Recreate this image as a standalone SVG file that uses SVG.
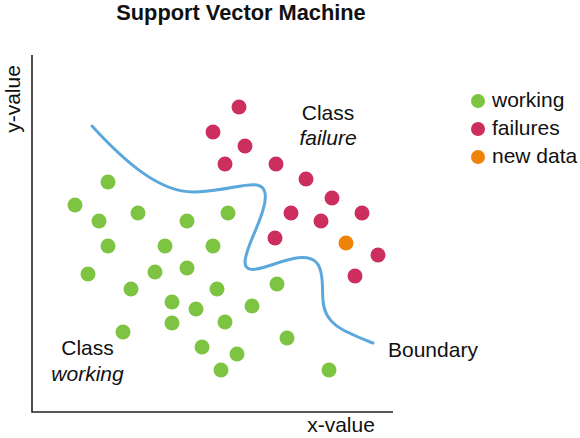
<svg xmlns="http://www.w3.org/2000/svg" width="580" height="438" viewBox="0 0 580 438">
<style>
text{font-family:"Liberation Sans",Arial,sans-serif;fill:#111;font-size:21px}
.t{font-weight:bold;font-size:21.8px}
.i{font-style:italic}
.g{fill:#7ec443}
.r{fill:#cc2f5e}
.o{fill:#ef8309}
.ax{stroke:#222;stroke-width:1.6;fill:none}
.b{stroke:#5ba8dc;stroke-width:3;fill:none;stroke-linecap:round}
</style>
<rect width="580" height="438" fill="#fff"/>
<text id="title" class="t" x="241" y="20" text-anchor="middle">Support Vector Machine</text>
<g id="axes">
<path class="ax" d="M32 55 V412 H393"/>
<text x="341" y="432" text-anchor="middle">x-value</text>
<text transform="translate(20 99) rotate(-90)" text-anchor="middle">y-value</text>
</g>
<g id="boundary">
<path class="b" d="M92 126 C125 162 160 193 195 192 C225 191 245 183 257 185 C268 187 266 200 263 210 C258 228 245 250 245 262 C245 272 255 270 265 267 C285 261 305 252 316 262 C324 270 322 290 323 300 C324 325 345 332 373 343"/>
<text x="388" y="357">Boundary</text>
</g>
<g id="working" class="g">
<circle cx="108" cy="182" r="7.5"/>
<circle cx="75" cy="205" r="7.5"/>
<circle cx="99" cy="221" r="7.5"/>
<circle cx="138" cy="213" r="7.5"/>
<circle cx="187" cy="221" r="7.5"/>
<circle cx="228" cy="213" r="7.5"/>
<circle cx="108" cy="246" r="7.5"/>
<circle cx="165" cy="246" r="7.5"/>
<circle cx="213" cy="246" r="7.5"/>
<circle cx="88" cy="274" r="7.5"/>
<circle cx="155" cy="272" r="7.5"/>
<circle cx="187" cy="268" r="7.5"/>
<circle cx="277" cy="284" r="7.5"/>
<circle cx="131" cy="289" r="7.5"/>
<circle cx="217" cy="289" r="7.5"/>
<circle cx="172" cy="302" r="7.5"/>
<circle cx="196" cy="309" r="7.5"/>
<circle cx="252" cy="306" r="7.5"/>
<circle cx="172" cy="323" r="7.5"/>
<circle cx="225" cy="322" r="7.5"/>
<circle cx="123" cy="332" r="7.5"/>
<circle cx="287" cy="338" r="7.5"/>
<circle cx="202" cy="347" r="7.5"/>
<circle cx="237" cy="354" r="7.5"/>
<circle cx="221" cy="370" r="7.5"/>
<circle cx="329" cy="370" r="7.5"/>
</g>
<g id="failures" class="r">
<circle cx="239" cy="107" r="7.5"/>
<circle cx="213" cy="132" r="7.5"/>
<circle cx="245" cy="146" r="7.5"/>
<circle cx="225" cy="164" r="7.5"/>
<circle cx="276" cy="164" r="7.5"/>
<circle cx="306" cy="179" r="7.5"/>
<circle cx="332" cy="198" r="7.5"/>
<circle cx="291" cy="213" r="7.5"/>
<circle cx="321" cy="221" r="7.5"/>
<circle cx="362" cy="213" r="7.5"/>
<circle cx="275" cy="238" r="7.5"/>
<circle cx="378" cy="255" r="7.5"/>
<circle cx="355" cy="276" r="7.5"/>
</g>
<g id="newdata" class="o">
<circle cx="346" cy="243" r="7.5"/>
</g>
<g id="class-failure">
<text x="328" y="120" text-anchor="middle">Class</text>
<text class="i" x="328" y="145" text-anchor="middle">failure</text>
</g>
<g id="class-working">
<text x="87.5" y="355" text-anchor="middle">Class</text>
<text class="i" x="87.5" y="381" text-anchor="middle">working</text>
</g>
<g id="legend">
<circle class="g" cx="478" cy="101" r="7"/>
<text x="492" y="107">working</text>
<circle class="r" cx="478" cy="129" r="7"/>
<text x="492" y="135">failures</text>
<circle class="o" cx="478" cy="157" r="7"/>
<text x="492" y="163">new data</text>
</g>
</svg>
